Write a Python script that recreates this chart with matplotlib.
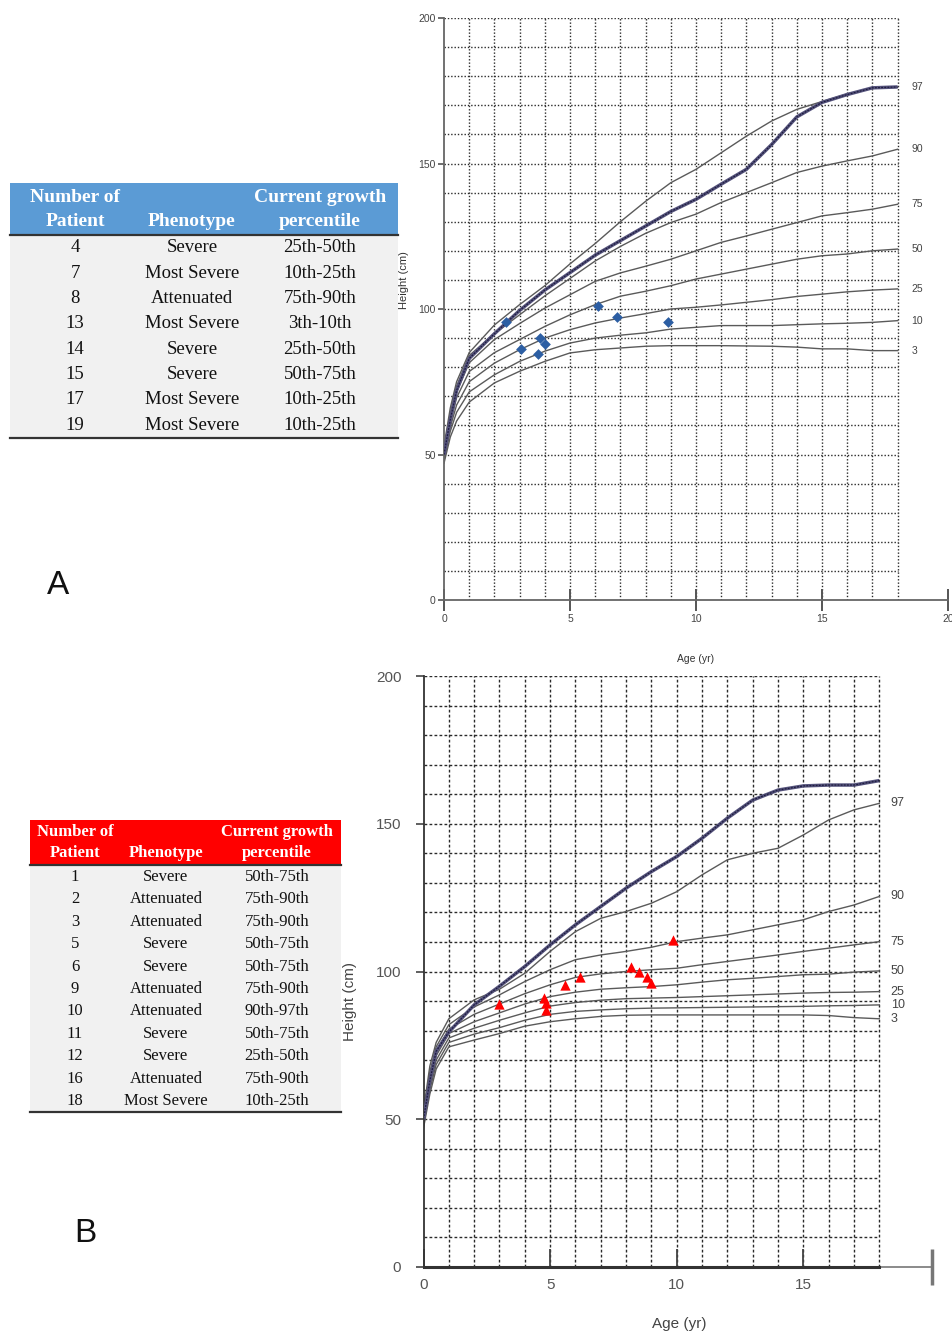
import matplotlib
matplotlib.use("Agg")
import matplotlib.pyplot as plt
from matplotlib.patches import Rectangle

# ---- data ----
AGE = [0, 0.25, 0.5, 1, 2, 3, 4, 5, 6, 7, 8, 9, 10, 11, 12, 13, 14, 15, 16, 17, 18]
PERCENTILE_LABELS = ["97", "90", "75", "50", "25", "10", "3"]

# panel A reference percentiles (cm)
A_P97 = [53, 66, 75, 85, 94.5, 101.5, 108, 115.5, 122.5, 130, 137, 143.4, 148, 153.7, 159.4, 164.6, 168.6, 171.3, 173.9, 175.8, 176.2]
A_P90 = [52, 64, 73.5, 84, 91.5, 98, 104.5, 110.5, 116.5, 121.5, 126, 129.7, 132.6, 136.6, 140, 143.4, 146.9, 149.1, 150.9, 152.6, 154.9]
A_P75 = [51, 62.5, 71.5, 81.5, 89.5, 95, 100.3, 104.9, 109.5, 112.4, 114.7, 117.1, 120, 122.9, 125.1, 127.4, 129.7, 132, 133.1, 134.3, 136]
A_P50 = [50, 61, 69.5, 78.5, 85, 89.5, 94, 98, 101.5, 104.4, 106.1, 108, 110.3, 112, 113.7, 115.4, 117.1, 118.3, 118.9, 120, 120.6]
A_P25 = [49, 59.5, 67, 75, 81.4, 86, 90, 92.9, 95.2, 96.9, 98.4, 100, 100.6, 101.4, 102.3, 103.2, 104.3, 105.1, 105.9, 106.5, 106.9]
A_P10 = [48, 58, 64.5, 71.5, 77.4, 82, 85.5, 88.3, 90, 91, 91.8, 93.1, 93.7, 94.3, 94.3, 94.3, 94.6, 94.9, 95.1, 95.4, 96]
A_P3 = [47, 56, 61.5, 68, 74.6, 78.6, 82, 84.9, 86, 86.6, 87.2, 87.4, 87.4, 87.4, 87.3, 87.2, 86.9, 86.3, 86.3, 85.7, 85.7]
A_NORMAL = [50, 62, 72, 83, 91.5, 99.5, 106.5, 112.5, 118.5, 123.5, 128.5, 133.5, 137.7, 142.9, 148, 156.5, 166, 171, 173.7, 176, 176.3]

# panel B reference percentiles (cm)
B_P97 = [53, 68, 76, 84, 90.4, 94, 99.4, 106.8, 113.5, 118, 120.3, 123.1, 127, 132.7, 137.8, 140, 141.7, 146.2, 151.3, 154.7, 156.9]
B_P90 = [52, 66, 74.5, 82, 88, 92.1, 96.6, 100.6, 104, 105.6, 106.8, 108.2, 110.1, 111.3, 112.4, 114.1, 115.8, 117.5, 120.3, 122.5, 125.4]
B_P75 = [51, 64.5, 73, 80.5, 85.5, 89, 92.5, 95.5, 98, 99.2, 100, 100.6, 101.1, 102.3, 103.4, 104.5, 105.6, 106.8, 107.9, 109, 110.1]
B_P50 = [50, 63, 71.5, 79, 83, 86, 89, 91.5, 93, 94, 94.5, 94.9, 95.5, 96.4, 97.2, 97.7, 98.3, 98.9, 99.1, 99.8, 100.2]
B_P25 = [49, 61.5, 70, 77.5, 80.8, 83.5, 86, 88.3, 89.5, 90.3, 90.8, 91, 91.2, 91.5, 91.8, 92.1, 92.4, 92.7, 92.9, 93, 93.2]
B_P10 = [48, 60, 68.5, 76, 78.8, 81, 83.5, 85.5, 86.5, 87, 87.4, 87.6, 87.7, 87.8, 87.9, 88, 88.1, 88.2, 88.4, 88.5, 88.7]
B_P3 = [47, 58.5, 67, 74.5, 76.8, 79, 81.5, 83, 84, 84.8, 85.2, 85.3, 85.3, 85.3, 85.3, 85.3, 85.3, 85.3, 85.1, 84.4, 84]
B_NORMAL = [50, 63, 73, 79.5, 88.7, 95, 101.7, 109, 115.8, 122, 128.2, 133.8, 138.9, 145.1, 151.9, 158, 161.4, 162.8, 163.1, 163.1, 164.6]

# patients
A_PATIENT_AGE = [2.45, 3.05, 3.72, 3.80, 3.99, 6.10, 6.85, 8.89]
A_PATIENT_HEIGHT = [95.4, 86.4, 84.4, 89.9, 87.9, 100.9, 97.3, 95.4]
B_PATIENT_AGE = [2.99, 4.74, 4.83, 4.83, 5.57, 6.20, 8.20, 8.51, 8.83, 8.99, 9.87]
B_PATIENT_HEIGHT = [89.0, 91.0, 89.3, 87.0, 95.5, 98.1, 101.5, 100.0, 98.3, 96.1, 110.7]

# tables
TABLE_HEADER_TOP = ["Number of", "", "Current growth"]
TABLE_HEADER_BOTTOM = ["Patient", "Phenotype", "percentile"]
A_TABLE_PATIENT = ["4", "7", "8", "13", "14", "15", "17", "19"]
A_TABLE_PHENOTYPE = ["Severe", "Most Severe", "Attenuated", "Most Severe", "Severe", "Severe", "Most Severe", "Most Severe"]
A_TABLE_PERCENTILE = ["25th-50th", "10th-25th", "75th-90th", "3th-10th", "25th-50th", "50th-75th", "10th-25th", "10th-25th"]
B_TABLE_PATIENT = ["1", "2", "3", "5", "6", "9", "10", "11", "12", "16", "18"]
B_TABLE_PHENOTYPE = ["Severe", "Attenuated", "Attenuated", "Severe", "Severe", "Attenuated", "Attenuated", "Severe", "Severe", "Attenuated", "Most Severe"]
B_TABLE_PERCENTILE = ["50th-75th", "75th-90th", "75th-90th", "50th-75th", "50th-75th", "75th-90th", "90th-97th", "50th-75th", "25th-50th", "75th-90th", "10th-25th"]

W, H = 952, 1333
SANS = "Liberation Sans"
SERIF = "Liberation Serif"


def fig_box(left, top, right, bottom):
    return [left / W, 1 - bottom / H, (right - left) / W, (bottom - top) / H]


def growth_chart(ax, curves, normal, pat_age, pat_height, marker, mcolor, msize,
                 grid_style, label_fs, label_x):
    ax.set_ylim(0, 200)
    ax.vlines(range(1, 19), 0, 200, colors="#2a2a2a", linestyles=grid_style, lw=1.0, zorder=1)
    ax.hlines(range(10, 201, 10), 0, 18, colors="#2a2a2a", linestyles=grid_style, lw=1.0, zorder=1)
    for label, values in zip(PERCENTILE_LABELS, curves):
        ax.plot(AGE, values, color="#5a5a5a", lw=1.0, zorder=2)
        ax.text(label_x, values[-1], label, fontsize=label_fs, color="#444444",
                family=SANS, va="center", ha="left", clip_on=False)
    ax.plot(AGE, normal, color="#55537c", lw=2.5, zorder=3, solid_capstyle="butt")
    ax.plot(AGE, normal, color="#1e1c3e", lw=0.9, zorder=3, ls=(0, (1.5, 1)))
    ax.scatter(pat_age, pat_height, marker=marker, color=mcolor, s=msize, zorder=4, lw=0)
    for side in ["top", "right"]:
        ax.spines[side].set_visible(False)
    ax.set_yticks([0, 50, 100, 150, 200])
    ax.patch.set_alpha(0)
    for t in ax.get_xticklabels() + ax.get_yticklabels():
        t.set_family(SANS)


fig = plt.figure(figsize=(W / 100, H / 100), dpi=100)

# ---- panel A chart ----
axA = fig.add_axes(fig_box(444, 18, 948, 600))
axA.set_xlim(0, 20)
growth_chart(axA, [A_P97, A_P90, A_P75, A_P50, A_P25, A_P10, A_P3], A_NORMAL,
             A_PATIENT_AGE, A_PATIENT_HEIGHT, "D", "#2c5ea3", 30,
             (0, (1, 1.4)), 7.5, 18.55)
axA.set_xticks([0, 5, 10, 15, 20])
axA.tick_params(axis="x", direction="inout", length=16, width=1.4, color="#555555",
                labelsize=7.5, pad=2, labelcolor="#444444")
axA.tick_params(axis="y", direction="out", length=4, width=1.2, color="#555555",
                labelsize=7.5, pad=2, labelcolor="#444444")
for side in ["left", "bottom"]:
    axA.spines[side].set_color("#666666")
    axA.spines[side].set_linewidth(1.3)
axA.set_xlabel("Age (yr)", fontsize=7.5, family=SANS, color="#333333", labelpad=22)
axA.set_ylabel("Height (cm)", fontsize=8, family=SANS, color="#333333", labelpad=4)
axA.yaxis.set_label_coords(-0.07, 0.55)

# ---- panel B chart ----
axB = fig.add_axes(fig_box(423.5, 676, 935, 1267))
axB.set_xlim(0, 20.2)
growth_chart(axB, [B_P97, B_P90, B_P75, B_P50, B_P25, B_P10, B_P3], B_NORMAL,
             B_PATIENT_AGE, B_PATIENT_HEIGHT, "^", "#ff0000", 55,
             (0, (2, 1.6)), 9, 18.45)
axB.set_xticks([0, 5, 10, 15])
axB.set_xticks([20.1], minor=True)
axB.tick_params(axis="x", which="major", direction="in", length=13, width=1.3, color="#444444",
                labelsize=11, pad=8, labelcolor="#555555")
axB.tick_params(axis="x", which="minor", direction="inout", length=26, width=2.5, color="#777777")
axB.tick_params(axis="y", direction="out", length=6, width=1.2, color="#444444",
                labelsize=11, pad=10, labelcolor="#555555")
axB.spines["bottom"].set_bounds(0, 18)
axB.spines["bottom"].set_linewidth(2.2)
axB.spines["bottom"].set_color("#333333")
axB.spines["left"].set_color("#333333")
axB.spines["left"].set_linewidth(1.3)
axB.plot([18, 20.1], [0, 0], color="#777777", lw=1.2, clip_on=False)
axB.set_xlabel("Age (yr)", fontsize=11, family=SANS, color="#444444", labelpad=18)
axB.set_ylabel("Height (cm)", fontsize=11, family=SANS, color="#444444", labelpad=4)
axB.yaxis.set_label_coords(-0.13, 0.45)

# ---- tables and panel letters on a pixel canvas ----
canvas = fig.add_axes([0, 0, 1, 1])
canvas.set_xlim(0, W)
canvas.set_ylim(H, 0)
canvas.axis("off")
canvas.patch.set_alpha(0)


def draw_table(left, right, top, head_bottom, bottom, col_x, head_y, first_row, row_step,
               head_color, head_fs, body_fs, columns):
    canvas.add_patch(Rectangle((left, top), right - left, head_bottom - top, color=head_color, lw=0))
    canvas.add_patch(Rectangle((left, head_bottom), right - left, bottom - head_bottom,
                               color="#f1f1f1", lw=0))
    canvas.plot([left, right], [head_bottom, head_bottom], color="#333333", lw=1.6)
    canvas.plot([left, right], [bottom, bottom], color="#333333", lw=1.6)
    for x, t1, t2 in zip(col_x, TABLE_HEADER_TOP, TABLE_HEADER_BOTTOM):
        canvas.text(x, head_y[0], t1, ha="center", va="center", color="white",
                    fontsize=head_fs, fontweight="bold", family=SERIF)
        canvas.text(x, head_y[1], t2, ha="center", va="center", color="white",
                    fontsize=head_fs, fontweight="bold", family=SERIF)
    for col, x in zip(columns, col_x):
        for i, value in enumerate(col):
            canvas.text(x, first_row + i * row_step, value, ha="center", va="center",
                        color="#111111", fontsize=body_fs, family=SERIF)


draw_table(10, 398, 183, 235, 438, [75, 192, 320], [197, 221], 248, 25.3,
           "#5b9bd5", 14, 13.5, [A_TABLE_PATIENT, A_TABLE_PHENOTYPE, A_TABLE_PERCENTILE])
draw_table(30, 341, 820, 865, 1112, [75, 166, 277], [832, 853], 877, 22.4,
           "#ff0000", 12, 12, [B_TABLE_PATIENT, B_TABLE_PHENOTYPE, B_TABLE_PERCENTILE])

canvas.text(58, 585, "A", ha="center", va="center", fontsize=24, family=SANS, color="#111111")
canvas.text(85, 1233, "B", ha="center", va="center", fontsize=24, family=SANS, color="#111111")

fig.savefig("out.png", dpi=100, facecolor="white")
